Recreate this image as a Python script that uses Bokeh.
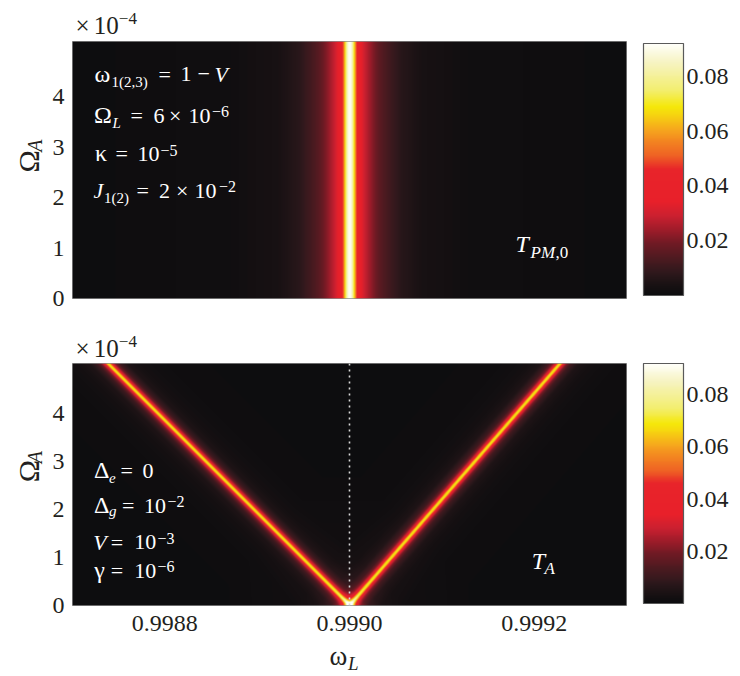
import numpy as np
from bokeh.plotting import figure
from bokeh.models import (LinearColorMapper, ColorBar, FixedTicker, Label, Range1d,
                          PrintfTickFormatter)
from bokeh.layouts import column, row
from bokeh.embed import file_html
from bokeh.resources import INLINE

# ---------------- data ----------------
omega_range = [0.9987, 0.9993]          # ω_L axis
top_Omega_max = 5.1e-4                  # Ω_A axis, upper panel
bot_Omega_max = 5.05e-4                 # Ω_A axis, lower panel
x_ticks = [0.9988, 0.9990, 0.9992]
x_tick_labels = ["0.9988", "0.9990", "0.9992"]
y_ticks = [0.0, 1e-4, 2e-4, 3e-4, 4e-4]
y_tick_labels = ["0", "1", "2", "3", "4"]
cbar_ticks = [0.02, 0.04, 0.06, 0.08]
cbar_range = [0.0, 0.092]

# upper panel: T_PM,0 resonance (independent of Ω_A)
top_center = 0.9990
top_offsets = [0, 2e-6, 4e-6, 5.5e-6, 7.5e-6, 1.1e-5, 1.6e-5, 2.4e-5, 3.2e-5,
               4.4e-5, 5.5e-5, 7.8e-5, 1.3e-4, 3.3e-4]
top_values = [0.092, 0.088, 0.075, 0.062, 0.047, 0.036, 0.029, 0.022, 0.016,
              0.011, 0.007, 0.0035, 0.0014, 0.0003]

# lower panel: T_A, two branches meeting at ω_L = 0.9990
branch_Omega = [0.0, 5.05e-4]
branch_left = [0.99900, 0.998738]
branch_right = [0.99900, 0.999228]
bot_offsets = [0, 1.5e-6, 3e-6, 5e-6, 8e-6, 1.2e-5, 2e-5, 3.5e-5, 6e-5, 1.5e-4]
bot_values = [0.070, 0.063, 0.046, 0.030, 0.019, 0.011, 0.005, 0.0022, 0.0009, 0.0002]

# colour map (black - red - yellow - white)
cmap_values = [0.000, 0.004, 0.008, 0.013, 0.019, 0.024, 0.029, 0.034, 0.046, 0.051,
               0.057, 0.061, 0.066, 0.069, 0.075, 0.085, 0.092]
cmap_colors = ["#0c0c0e", "#1a1214", "#2e181c", "#4a1a20", "#701a24", "#a01c2a",
               "#cc2030", "#e8202a", "#e8242a", "#ef6224", "#f38a20", "#f6a91d",
               "#f6d410", "#f5e80a", "#f3ee70", "#f6f3c0", "#fffffa"]

# ---------------- helpers ----------------
FONT = "Liberation Serif"
INK = "#231f20"
FRAME_LEFT = 72
FRAME_W = 554
STRIP_W = 45
K = 0.3   # label baseline correction (fraction of font size)


def build_palette(n=256):
    vals = np.array(cmap_values) / cmap_values[-1]
    rgb = np.array([[int(c[i:i + 2], 16) for i in (1, 3, 5)] for c in cmap_colors], float)
    out = []
    for ti in np.linspace(0, 1, n):
        r, g, b = (np.interp(ti, vals, rgb[:, k]) for k in range(3))
        out.append("#%02x%02x%02x" % (int(round(r)), int(round(g)), int(round(b))))
    return out


palette = build_palette()


def text_strip(x0, y0, w, h):
    s = figure(width=w, height=h, x_range=Range1d(x0, x0 + w), y_range=Range1d(y0 + h, y0),
               min_border=0, x_axis_location=None, y_axis_location=None,
               toolbar_location=None, output_backend="svg", title=None)
    s.grid.visible = False
    s.outline_line_color = None
    s.background_fill_color = "white"
    return s


def txt(s, text, x, y, size, italic=False, color=INK, angle=0.0):
    if angle:
        x = x - K * size
    else:
        y = y - K * size
    s.add_layout(Label(x=x, y=y, text=text, text_font=FONT, text_font_size="%gpx" % size,
                       text_font_style="italic" if italic else "normal",
                       text_color=color, text_align="left", text_baseline="alphabetic",
                       angle=angle))


def make_fig(ymax, frame_h, b_bottom):
    p = figure(frame_width=FRAME_W, frame_height=frame_h,
               min_border_left=FRAME_LEFT - STRIP_W, min_border_top=0,
               min_border_bottom=b_bottom, min_border_right=0,
               x_range=Range1d(*omega_range), y_range=Range1d(0, ymax),
               output_backend="svg", toolbar_location=None, title=None)
    p.grid.visible = False
    p.background_fill_color = "#0c0c0e"
    p.outline_line_color = "#8c8c8c"
    p.outline_line_width = 1
    for ax in (p.xaxis, p.yaxis):
        ax.axis_line_color = None
        ax.major_tick_line_color = None
        ax.minor_tick_line_color = None
        ax.major_tick_out = 0
        ax.major_tick_in = 0
        ax.major_label_text_font = FONT
        ax.major_label_text_font_size = "24px"
        ax.major_label_text_color = INK
    p.yaxis.ticker = FixedTicker(ticks=y_ticks)
    p.yaxis.major_label_overrides = {t: l for t, l in zip(y_ticks, y_tick_labels)}
    p.yaxis.major_label_standoff = 8
    p.xaxis.ticker = FixedTicker(ticks=x_ticks)
    p.xaxis.major_label_overrides = {t: l for t, l in zip(x_ticks, x_tick_labels)}
    p.xaxis.major_label_standoff = 10
    return p


def add_cbar(p, mapper, h, yoff):
    cb = ColorBar(color_mapper=mapper, ticker=FixedTicker(ticks=cbar_ticks),
                  formatter=PrintfTickFormatter(format="%.2f"),
                  width=40, height=h, padding=0, margin=0,
                  location=(17, yoff), label_standoff=3,
                  major_label_text_font=FONT, major_label_text_font_size="24px",
                  major_label_text_color=INK,
                  major_tick_line_color=None, minor_tick_line_color=None,
                  bar_line_color="#5a5a5a", bar_line_width=1.2,
                  border_line_color=None, background_fill_color=None)
    p.add_layout(cb, "right")


def put(p, text, px, py, size, frame_bottom_page, italic=False, color="white"):
    py = py - K * size
    p.add_layout(Label(x=omega_range[0], y=0, x_offset=px - FRAME_LEFT,
                       y_offset=frame_bottom_page - py, text=text,
                       text_font=FONT, text_font_size="%gpx" % size,
                       text_font_style="italic" if italic else "normal",
                       text_color=color, text_align="left", text_baseline="alphabetic"))


mapper = LinearColorMapper(palette=palette, low=cbar_range[0], high=cbar_range[1])
x_edges = np.linspace(omega_range[0], omega_range[1], FRAME_W * 2 + 1)
x_c = 0.5 * (x_edges[1:] + x_edges[:-1])

A, G, S, P = 22, 24, 15, 16

# ---------------- upper panel ----------------
strip1 = text_strip(0, 0, 740, 41)
txt(strip1, "×", 75, 32.3, 25)
txt(strip1, "10", 93.3, 32.3, 25)
txt(strip1, "−4", 118.3, 23.3, 17)

TOP_FRAME_H = 257
p1 = make_fig(top_Omega_max, TOP_FRAME_H, 22)
p1.xaxis.visible = False
row_top = np.interp(np.abs(x_c - top_center), top_offsets, top_values)
field_top = np.tile(row_top, (TOP_FRAME_H, 1))
p1.image(image=[field_top], x=omega_range[0], y=0,
         dw=omega_range[1] - omega_range[0], dh=top_Omega_max, color_mapper=mapper)
add_cbar(p1, mapper, 252, 3)

fb1 = 298
for t, x, y, s, it in [
    ("ω", 94, 80.5, G, False), ("1(2,3)", 111, 85.5, S, False),
    ("=", 158, 80.5, A, False), ("1", 180, 80.5, A, False),
    ("−", 197, 80.5, A, False), ("V", 214, 80.5, A, True),
    ("Ω", 93.5, 121.7, G, False), ("L", 112, 126.7, S, True),
    ("=", 130, 121.7, A, False), ("6", 153, 121.7, A, False),
    ("×", 168.5, 121.7, A, False), ("10", 188, 121.7, A, False),
    ("−6", 211.5, 116.2, P, False),
    ("κ", 94.5, 160, G, False), ("=", 115, 160, A, False),
    ("10", 137, 160, A, False), ("−5", 160, 154.5, P, False),
    ("J", 93, 196.7, A, True), ("1(2)", 103.5, 201.7, S, False),
    ("=", 136, 196.7, A, False), ("2", 158.5, 196.7, A, False),
    ("×", 175.5, 196.7, A, False), ("10", 194, 196.7, A, False),
    ("−2", 218.5, 191.2, P, False),
    ("T", 515, 250.7, 24, True), ("PM", 530, 256.7, 17, True),
    (",0", 555, 256.7, 17, False),
]:
    put(p1, t, x, y, s, fb1, italic=it)

ylab1 = text_strip(0, 41, STRIP_W, 279)
txt(ylab1, "Ω", 36.7, 183.3, 30, angle=np.pi / 2)
txt(ylab1, "A", 40.5, 160.7, 20, italic=True, angle=np.pi / 2)

# ---------------- lower panel ----------------
strip2 = text_strip(0, 320, 740, 43)
txt(strip2, "×", 75, 355, 25)
txt(strip2, "10", 93.3, 355, 25)
txt(strip2, "−4", 118.3, 346, 17)

BOT_FRAME_H = 242
p2 = make_fig(bot_Omega_max, BOT_FRAME_H, 37)
y_c = (np.arange(BOT_FRAME_H * 2) + 0.5) / (BOT_FRAME_H * 2) * bot_Omega_max
cl = np.interp(y_c, branch_Omega, branch_left)[:, None]
cr = np.interp(y_c, branch_Omega, branch_right)[:, None]
field_bot = (np.interp(np.abs(x_c[None, :] - cl), bot_offsets, bot_values)
             + np.interp(np.abs(x_c[None, :] - cr), bot_offsets, bot_values))
field_bot = np.minimum(field_bot, cbar_range[1])
p2.image(image=[field_bot], x=omega_range[0], y=0,
         dw=omega_range[1] - omega_range[0], dh=bot_Omega_max, color_mapper=mapper)
p2.line(x=[branch_left[0], branch_left[0]], y=[0, bot_Omega_max],
        line_color="#d8d8d8", line_width=1.6, line_dash="2 4")
add_cbar(p2, mapper, 240, 2)

fb2 = 605
for t, x, y, s, it in [
    ("Δ", 93.5, 476.7, G, False), ("e", 108.5, 481.7, S, True),
    ("=", 120, 476.7, A, False), ("0", 142, 476.7, A, False),
    ("Δ", 93.5, 511.7, G, False), ("g", 108.5, 514.5, S, True),
    ("=", 121.5, 511.7, A, False), ("10", 143.5, 511.7, A, False),
    ("−2", 167, 506.2, P, False),
    ("V", 92.7, 548.3, A, True), ("=", 110.3, 548.3, A, False),
    ("10", 133.7, 548.3, A, False), ("−3", 157, 542.8, P, False),
    ("γ", 93.7, 576.7, G, False), ("=", 110.3, 576.7, A, False),
    ("10", 133.7, 576.7, A, False), ("−6", 157, 571.2, P, False),
    ("T", 531.3, 567.3, 24, True), ("A", 544, 573.3, 17, True),
]:
    put(p2, t, x, y, s, fb2, italic=it)

ylab2 = text_strip(0, 363, STRIP_W, 279)
txt(ylab2, "Ω", 36.7, 500, 30, angle=np.pi / 2)
txt(ylab2, "A", 40.5, 478, 20, italic=True, angle=np.pi / 2)

# ---------------- x label (page y 642 .. 676) ----------------
xlab = text_strip(0, 642, 740, 34)
txt(xlab, "ω", 329, 663.3, 27)
txt(xlab, "L", 347.5, 668.3, 19, italic=True)

layout = column(strip1, row(ylab1, p1, spacing=0), strip2, row(ylab2, p2, spacing=0), xlab,
                spacing=0)
open("out.html", "w").write(file_html(layout, INLINE))
